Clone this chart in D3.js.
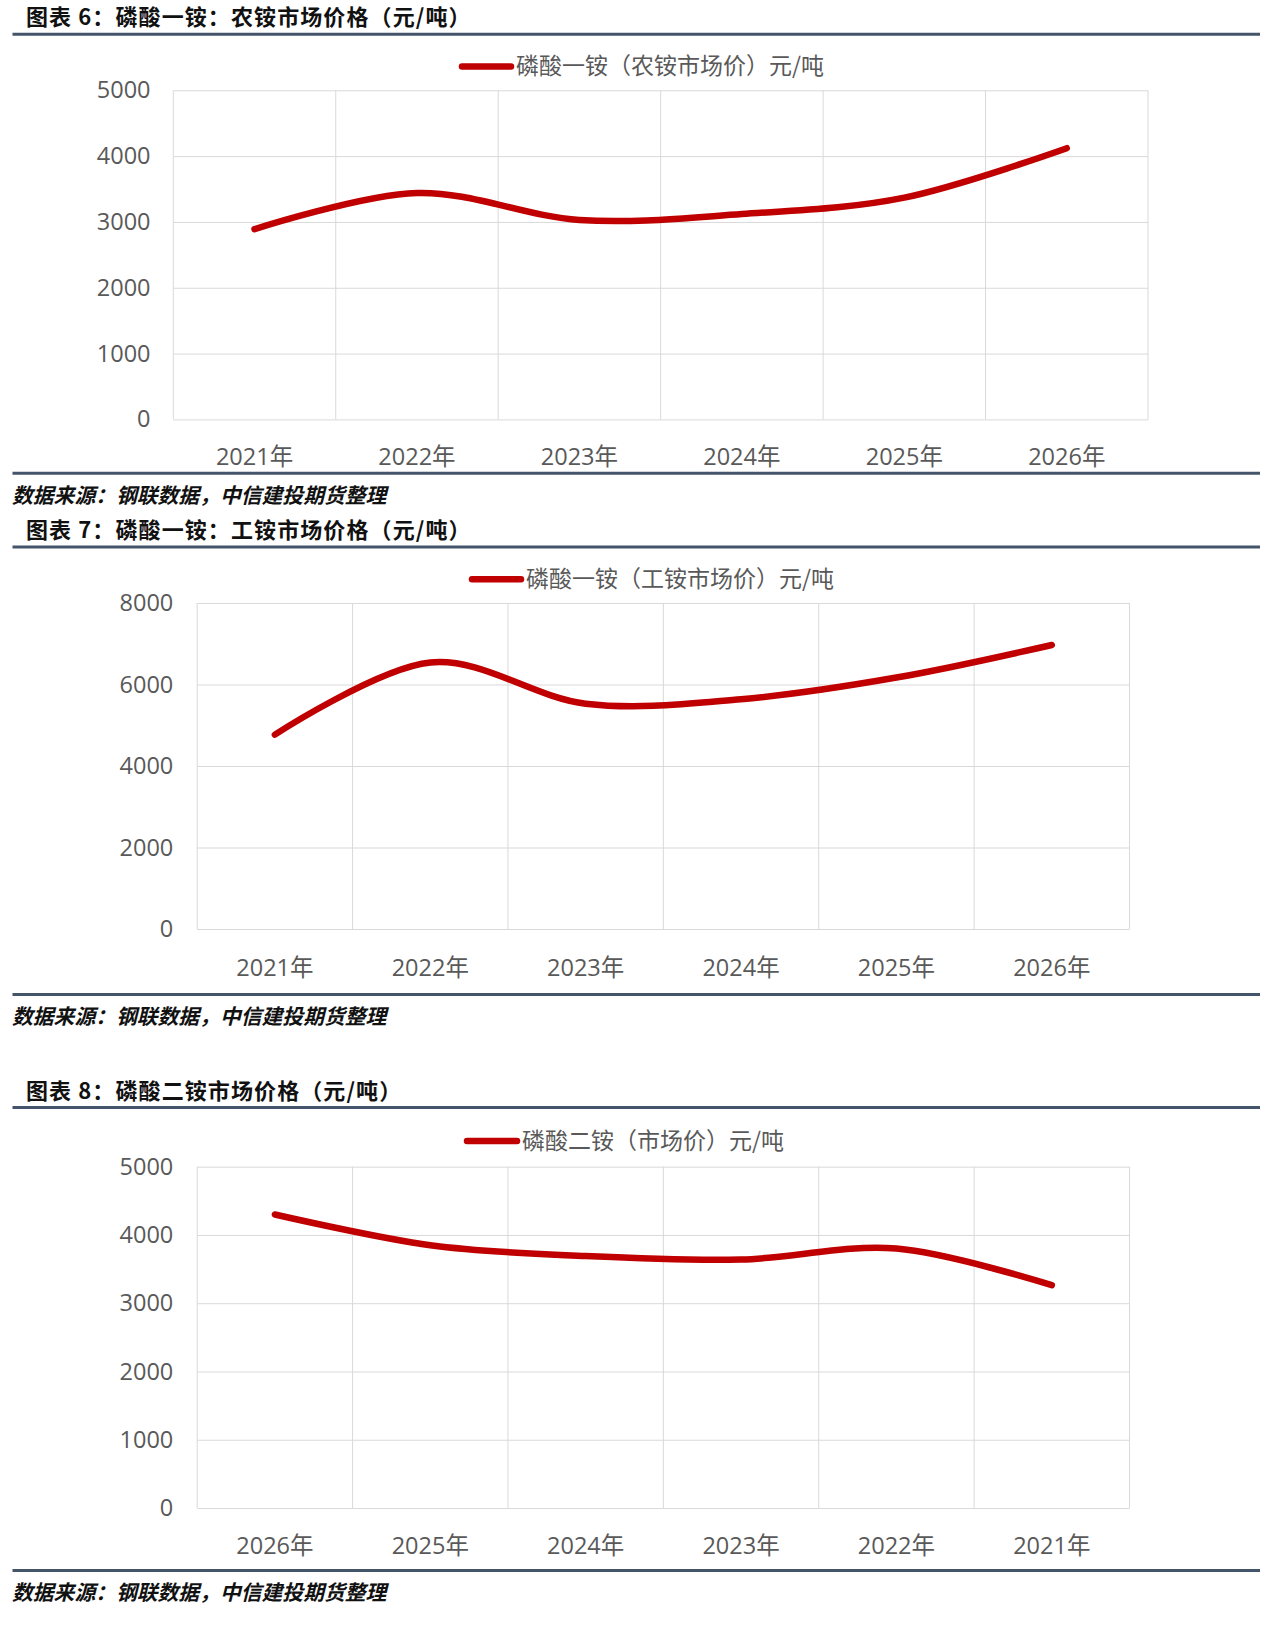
<!DOCTYPE html>
<html>
<head>
<meta charset="utf-8">
<script src="https://cdn.jsdelivr.net/npm/d3@7"></script>
<style>
  body { margin: 0; background: #fff; }
  svg { display: block; }
  text { font-family: "Open Sans", "Noto Sans CJK SC", sans-serif; }
</style>
</head>
<body>
<script>
// Chart data
const years6 = ["2021年", "2022年", "2023年", "2024年", "2025年", "2026年"];
const nongAnPrice = [2890, 3440, 3030, 3120, 3370, 4120];
const ticks6 = [0, 1000, 2000, 3000, 4000, 5000];

const years7 = ["2021年", "2022年", "2023年", "2024年", "2025年", "2026年"];
const gongAnPrice = [4770, 6540, 5530, 5640, 6170, 6970];
const ticks7 = [0, 2000, 4000, 6000, 8000];

const years8 = ["2026年", "2025年", "2024年", "2023年", "2022年", "2021年"];
const erAnPrice = [4300, 3850, 3690, 3640, 3800, 3264];
const ticks8 = [0, 1000, 2000, 3000, 4000, 5000];

const width = 1280, height = 1628;
const red = "#c00000", ruleColor = "#44546a", gridColor = "#d9d9d9", labelColor = "#595959";
const cjk = '"Noto Sans CJK SC", sans-serif';

const svg = d3.select("body")
    .append("svg")
    .attr("width", width)
    .attr("height", height);

function drawChart(cfg) {
    const g = svg.append("g");

    // Title + top rule
    g.append("text")
        .attr("x", 26)
        .attr("y", cfg.titleY)
        .attr("dy", "0.35em")
        .style("font-family", cjk)
        .style("font-weight", 700)
        .style("font-size", "22px")
        .style("letter-spacing", "1.1px")
        .attr("fill", "#111")
        .text(cfg.title);

    g.append("line")
        .attr("x1", 12.5).attr("x2", 1260)
        .attr("y1", cfg.ruleTop).attr("y2", cfg.ruleTop)
        .attr("stroke", ruleColor).attr("stroke-width", 3);

    // Scales
    const x = d3.scaleBand()
        .domain(cfg.categories)
        .range([cfg.plot.left, cfg.plot.right])
        .padding(0);

    const y = d3.scaleLinear()
        .domain([0, d3.max(cfg.ticks)])
        .range([cfg.plot.bottom, cfg.plot.top]);

    // Horizontal grid + y labels
    const yAxis = g.append("g")
        .attr("transform", `translate(${cfg.plot.left},0)`)
        .call(d3.axisLeft(y)
            .tickValues(cfg.ticks)
            .tickSize(-(cfg.plot.right - cfg.plot.left))
            .tickPadding(cfg.plot.left - cfg.labelRight)
            .tickFormat(d3.format("d")));
    yAxis.select(".domain").remove();
    yAxis.selectAll("line").attr("stroke", gridColor);
    yAxis.selectAll("text")
        .attr("fill", labelColor)
        .style("font-size", "23.5px");

    // Vertical grid at category boundaries
    const edges = cfg.categories.map(c => x(c)).concat([x.range()[1]]);
    g.selectAll(".vgrid")
        .data(edges)
        .enter()
        .append("line")
        .attr("x1", d => d).attr("x2", d => d)
        .attr("y1", cfg.plot.top).attr("y2", cfg.plot.bottom)
        .attr("stroke", gridColor);

    // X labels
    const xAxis = g.append("g")
        .attr("transform", `translate(0,${cfg.plot.bottom})`)
        .call(d3.axisBottom(x).tickSize(0).tickPadding(0));
    xAxis.select(".domain").remove();
    xAxis.selectAll("text")
        .attr("y", cfg.xLabelY - cfg.plot.bottom)
        .attr("dy", "0.35em")
        .attr("fill", labelColor)
        .style("font-size", "23.5px");

    // Smoothed line
    const line = d3.line()
        .x((d, i) => x(cfg.categories[i]) + x.bandwidth() / 2)
        .y(d => y(d))
        .curve(d3.curveCardinal.tension(0));

    g.append("path")
        .datum(cfg.values)
        .attr("d", line)
        .attr("fill", "none")
        .attr("stroke", red)
        .attr("stroke-width", 6.5)
        .attr("stroke-linecap", "round")
        .attr("stroke-linejoin", "round");

    // Legend
    g.append("line")
        .attr("x1", cfg.legend.x1).attr("x2", cfg.legend.x2)
        .attr("y1", cfg.legend.y).attr("y2", cfg.legend.y)
        .attr("stroke", red).attr("stroke-width", 6.5)
        .attr("stroke-linecap", "round");
    g.append("text")
        .attr("x", cfg.legend.textX)
        .attr("y", cfg.legend.y)
        .attr("dy", "0.35em")
        .style("font-family", cjk)
        .style("font-size", "23px")
        .attr("fill", labelColor)
        .text(cfg.legend.label);

    // Bottom rule + source
    g.append("line")
        .attr("x1", 12.5).attr("x2", 1260)
        .attr("y1", cfg.ruleBottom).attr("y2", cfg.ruleBottom)
        .attr("stroke", ruleColor).attr("stroke-width", 3);

    g.append("text")
        .attr("x", 12)
        .attr("y", cfg.sourceY)
        .attr("dy", "0.35em")
        .style("font-family", cjk)
        .style("font-weight", 700)
        .style("font-style", "italic")
        .style("font-size", "20.8px")
        .attr("fill", "#111")
        .text("数据来源：钢联数据，中信建投期货整理");
}

drawChart({
    title: "图表 6：磷酸一铵：农铵市场价格（元/吨）",
    titleY: 17, ruleTop: 34.3,
    categories: years6, values: nongAnPrice, ticks: ticks6,
    plot: { left: 173.3, right: 1148, top: 90.3, bottom: 419.4 },
    labelRight: 150.5, xLabelY: 456.7,
    legend: { x1: 462, x2: 511, y: 66.4, textX: 516, label: "磷酸一铵（农铵市场价）元/吨" },
    ruleBottom: 473.3, sourceY: 496
});

drawChart({
    title: "图表 7：磷酸一铵：工铵市场价格（元/吨）",
    titleY: 530.4, ruleTop: 547,
    categories: years7, values: gongAnPrice, ticks: ticks7,
    plot: { left: 197.2, right: 1129.5, top: 603, bottom: 929 },
    labelRight: 173.3, xLabelY: 967.4,
    legend: { x1: 472, x2: 521, y: 579.2, textX: 526, label: "磷酸一铵（工铵市场价）元/吨" },
    ruleBottom: 994.4, sourceY: 1017
});

drawChart({
    title: "图表 8：磷酸二铵市场价格（元/吨）",
    titleY: 1091, ruleTop: 1107.5,
    categories: years8, values: erAnPrice, ticks: ticks8,
    plot: { left: 197.2, right: 1129.5, top: 1166.7, bottom: 1508 },
    labelRight: 173.3, xLabelY: 1545.6,
    legend: { x1: 467, x2: 517, y: 1141, textX: 522, label: "磷酸二铵（市场价）元/吨" },
    ruleBottom: 1570.5, sourceY: 1593
});
</script>
</body>
</html>
